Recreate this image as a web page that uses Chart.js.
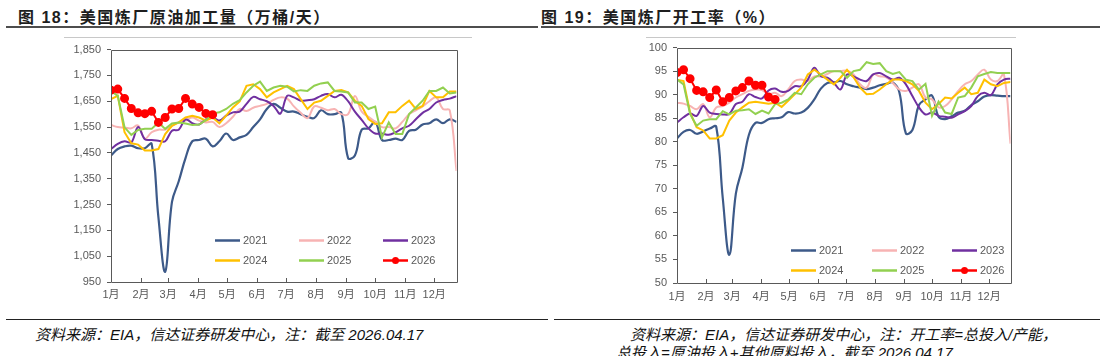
<!DOCTYPE html>
<html>
<head>
<meta charset="utf-8">
<script src="https://cdn.jsdelivr.net/npm/chart.js@4.4.0/dist/chart.umd.min.js"></script>
<style>
  body { margin: 0; width: 1108px; height: 356px; background: #fff; position: relative; overflow: hidden; }
  .title { position: absolute; top: 4px; font: bold 16px "Liberation Sans", "Noto Sans CJK SC", sans-serif; letter-spacing: 1.5px; color: #1e1e1e; white-space: nowrap; }
  .rule { position: absolute; height: 2px; background: #4d4d4d; }
  .thin { position: absolute; height: 1px; background: #c8c8c8; }
  .box { position: absolute; }
  .note { position: absolute; font: italic 15px "Liberation Sans", "Noto Sans CJK SC", sans-serif; color: #111; white-space: nowrap; }
</style>
</head>
<body>
<div class="title" style="left:18px">图 18：美国炼厂原油加工量（万桶/天）</div>
<div class="title" style="left:541px">图 19：美国炼厂开工率（%）</div>
<div class="rule" style="left:6px;width:532px;top:26px"></div>
<div class="rule" style="left:541px;width:559px;top:26px"></div>
<div class="thin" style="left:64px;width:408px;top:37px"></div>
<div class="thin" style="left:646px;width:370px;top:37px"></div>

<div class="box" style="left:60px;top:37px;width:402px;height:267px"><canvas id="runsChart"></canvas></div>
<div class="box" style="left:640px;top:35px;width:376px;height:270px"><canvas id="utilChart"></canvas></div>

<div class="rule" style="left:6px;width:542px;top:319px;height:1px;background:#222"></div>
<div class="rule" style="left:554px;width:546px;top:319px;height:1px;background:#222"></div>
<div class="note" style="left:35px;top:323px">资料来源：EIA，信达证券研发中心，注：截至 2026.04.17</div>
<div class="note" style="left:630px;top:323px">资料来源：EIA，信达证券研发中心，注：开工率=总投入/产能，</div>
<div class="note" style="left:616px;top:341px">总投入=原油投入+其他原料投入，截至 2026.04.17</div>

<script>
// 年份、月份标签
const years = ['2021', '2022', '2023', '2024', '2025', '2026'];
const monthLabels = ['1月', '2月', '3月', '4月', '5月', '6月', '7月', '8月', '9月', '10月', '11月', '12月'];
const monthStartDay = [0, 31, 59, 90, 120, 151, 181, 212, 243, 273, 304, 334];

// 原油加工量（万桶/天），按周
const runs2021 = [1440,1465,1475,1478,1468,1468,1485,1200,990,1260,1340,1430,1495,1500,1505,1475,1495,1525,1500,1510,1520,1550,1580,1620,1640,1625,1610,1610,1600,1590,1585,1615,1600,1600,1605,1430,1440,1540,1545,1570,1500,1500,1505,1500,1535,1540,1560,1565,1580,1565,1580,1570];
const runs2022 = [1558,1550,1548,1545,1556,1505,1530,1540,1540,1555,1568,1575,1587,1575,1568,1570,1550,1565,1590,1620,1612,1625,1632,1640,1655,1665,1660,1630,1605,1585,1630,1625,1615,1620,1600,1600,1670,1610,1590,1570,1550,1550,1545,1570,1600,1615,1630,1650,1665,1620,1615,1380];
const runs2023 = [1465,1485,1495,1490,1550,1503,1500,1497,1495,1536,1540,1580,1565,1560,1580,1587,1575,1594,1607,1610,1640,1667,1658,1650,1632,1602,1671,1665,1652,1654,1658,1671,1678,1665,1675,1650,1610,1578,1545,1525,1525,1520,1530,1545,1555,1580,1605,1620,1645,1655,1660,1670];
const runs2024 = [1658,1671,1530,1487,1482,1459,1459,1465,1523,1555,1568,1587,1594,1587,1575,1587,1564,1594,1626,1649,1710,1716,1697,1665,1684,1697,1710,1697,1658,1620,1645,1652,1671,1690,1693,1684,1652,1632,1581,1562,1565,1607,1607,1632,1652,1620,1632,1690,1665,1665,1688,1688];
const runs2025 = [1690,1671,1549,1520,1539,1543,1543,1568,1543,1564,1568,1564,1558,1560,1577,1603,1607,1620,1640,1654,1684,1710,1726,1690,1703,1710,1706,1688,1693,1690,1710,1719,1723,1690,1688,1684,1645,1645,1620,1629,1510,1568,1523,1523,1600,1626,1652,1690,1690,1703,1680,1684];
const runs2026 = [1693,1697,1661,1622,1605,1602,1611,1568,1587,1620,1622,1661,1639,1626,1603,1598];

// 开工率（%），按周
const util2021 = [80.7,82.1,82.5,81.7,82.2,82.8,83.2,68,56,69,74.5,81.5,84.0,84.0,84.8,85.0,85.2,86.3,86.0,86.2,87.2,89.0,91.3,92.5,92.6,92.9,92.2,91.8,91.5,91.2,91.5,92.0,92.3,92.6,90.5,81.8,82.5,87.8,89.0,89.8,85.3,84.8,85.4,86.2,86.6,87.8,88.6,89.6,89.9,89.8,89.7,89.7];
const util2022 = [88.3,88.1,87.6,86.9,88.0,85.2,87.3,87.6,88.3,89.4,90.1,90.8,91.1,91.0,90.1,90.4,89.7,91.1,92.9,93.2,92.9,93.9,93.9,94.4,95.0,95.0,95.1,94.3,92.2,91.5,94.3,93.9,93.7,92.5,91.1,90.8,91.5,92.2,89.4,89.0,87.3,87.6,89.0,90.8,92.2,92.9,94.3,95.3,93.2,92.9,94.3,79.6];
const util2023 = [84.1,85.2,86.0,85.5,87.6,86.2,85.9,85.8,85.9,88.0,88.5,90.1,89.5,89.2,90.9,91.3,90.6,90.8,91.8,91.8,93.2,95.7,93.9,93.6,92.5,91.1,94.3,93.9,93.2,92.9,94.3,94.6,93.9,93.2,93.6,92.2,89.7,87.3,85.8,86.2,85.5,85.3,85.1,85.8,86.5,87.6,89.7,90.4,89.9,92.2,93.2,93.4];
const util2024 = [93.2,92.9,86.2,83.1,82.4,80.7,80.7,81.4,84.5,86.2,87.3,88.3,88.5,88.3,88.1,88.3,87.4,88.7,90.1,91.5,94.3,95.3,94.3,93.2,92.2,93.6,95.3,93.7,91.5,90.1,90.2,91.1,92.2,93.2,93.2,92.9,92.2,90.8,88.3,86.9,88.0,89.4,89.2,90.4,91.5,90.1,90.4,93.2,92.2,91.8,92.5,92.7];
const util2025 = [93.2,92.2,85.9,83.4,84.5,84.8,84.8,86.5,85.8,86.6,86.7,86.9,85.9,86.6,86.0,88.0,88.3,89.0,90.4,90.1,92.2,93.6,94.3,95.0,95.0,95.0,93.6,95.0,95.3,96.9,96.5,96.7,95.0,94.4,94.8,93.2,92.9,91.1,92.3,85.5,88.5,86.2,85.9,89.4,89.7,91.5,93.9,94.4,94.8,94.6,94.6,94.6];
const util2026 = [94.7,95.3,93.4,90.9,90.6,89.4,91.0,88.5,89.4,90.8,91.5,92.9,92.0,92.0,89.5,89.0];

const colors = ['#3d5a89', '#f7b3b3', '#7030a0', '#ffc000', '#92d050', '#ff0000'];
const smooth = [0.4, 0.4, 0.35, 0, 0, 0];
const tickFont = { family: '"Liberation Sans", "Noto Sans CJK SC", sans-serif', size: 11 };
const axisColor = '#595959';

// 边框、朝内的月份刻度和图内图例
const frameLegend = {
  id: 'frameLegend',
  afterDraw(chart, args, opts) {
    const { ctx, chartArea: a, scales: { x } } = chart;
    ctx.save();
    ctx.strokeStyle = axisColor;
    ctx.lineWidth = 1;
    ctx.beginPath();
    ctx.rect(Math.round(a.left) + 0.5, Math.round(a.top) + 0.5, Math.round(a.right - a.left), Math.round(a.bottom - a.top));
    x.ticks.forEach(t => {
      const px = Math.round(x.getPixelForValue(t.value)) + 0.5;
      ctx.moveTo(px, Math.round(a.bottom));
      ctx.lineTo(px, Math.round(a.bottom) - 4);
    });
    ctx.stroke();

    ctx.font = '11px "Liberation Sans", sans-serif';
    ctx.textBaseline = 'middle';
    chart.data.datasets.forEach((ds, i) => {
      const lx = Math.round(a.left + opts.cols[i % 3]);
      const ly = Math.round(a.top + opts.rows[Math.floor(i / 3)]) + 0.5;
      ctx.strokeStyle = ds.borderColor;
      ctx.lineWidth = 2.5;
      ctx.beginPath();
      ctx.moveTo(lx, ly);
      ctx.lineTo(lx + 25, ly);
      ctx.stroke();
      if (ds.pointRadius) {
        ctx.fillStyle = ds.borderColor;
        ctx.beginPath();
        ctx.arc(lx + 12.5, ly, 3.5, 0, Math.PI * 2);
        ctx.fill();
      }
      ctx.fillStyle = axisColor;
      ctx.fillText(ds.label, lx + 28, ly);
    });
    ctx.restore();
  }
};

function buildDatasets(series) {
  return series.map((vals, i) => ({
    label: years[i],
    data: vals.map((v, w) => ({ x: w, y: v })),
    borderColor: colors[i],
    backgroundColor: colors[i],
    borderWidth: i === 0 ? 2.2 : 2,
    tension: smooth[i],
    pointRadius: i === 5 ? 3.5 : 0,
    pointHoverRadius: 0,
    order: 6 - i
  }));
}

function criarGrafico(id, series, yOpts, yWidth, padTop, xPad, legendPos) {
  const ctx = document.getElementById(id).getContext('2d');
  return new Chart(ctx, {
    type: 'line',
    data: { datasets: buildDatasets(series) },
    options: {
      responsive: true,
      maintainAspectRatio: false,
      animation: false,
      devicePixelRatio: 1,
      layout: { padding: { top: padTop, right: 3, left: 0, bottom: 0 } },
      plugins: {
        legend: { display: false },
        tooltip: { enabled: false },
        frameLegend: legendPos
      },
      scales: {
        x: {
          type: 'linear',
          min: 0,
          max: 51,
          afterBuildTicks: s => { s.ticks = monthStartDay.map(d => ({ value: d / 7 })); },
          afterFit: s => { s.height = 22; },
          ticks: {
            autoSkip: false,
            maxRotation: 0,
            padding: xPad,
            color: axisColor,
            font: tickFont,
            callback: (v, idx) => monthLabels[idx]
          },
          grid: { display: false, drawTicks: false },
          border: { display: false }
        },
        y: Object.assign({
          afterFit: s => { s.width = yWidth; },
          grid: { drawOnChartArea: false, drawTicks: true, tickLength: 4, color: axisColor },
          border: { display: false }
        }, yOpts)
      }
    },
    plugins: [frameLegend]
  });
}

document.addEventListener('DOMContentLoaded', () => {
  criarGrafico('runsChart',
    [runs2021, runs2022, runs2023, runs2024, runs2025, runs2026],
    {
      min: 950, max: 1850,
      ticks: { stepSize: 100, color: axisColor, font: tickFont, padding: 6,
        callback: v => v.toLocaleString('en-US') }
    },
    51, 10, 6,
    { cols: [104, 188, 272], rows: [190, 210] });

  criarGrafico('utilChart',
    [util2021, util2022, util2023, util2024, util2025, util2026],
    {
      min: 50, max: 100,
      ticks: { stepSize: 5, color: axisColor, font: tickFont, padding: 6 }
    },
    37, 9, 7,
    { cols: [114, 195, 275], rows: [202, 222] });
});
</script>
</body>
</html>
